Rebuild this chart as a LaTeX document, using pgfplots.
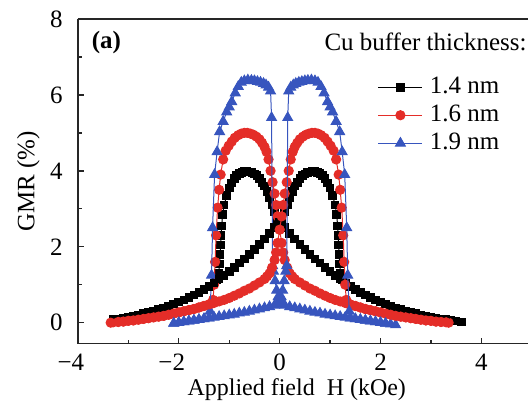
\documentclass[border=0pt]{standalone}
\usepackage{fontspec}
\setmainfont{Liberation Serif}
\usepackage{pgfplots}
\usepackage{pgfplotstable}
\pgfplotsset{compat=1.18}
\definecolor{gred}{RGB}{228,45,40}
\definecolor{gblue}{RGB}{55,85,190}

% field sweep from +H to -H; the return sweep is the mirror image
\pgfplotstableread{
x y
3.6 0.02
3.5 0.04
3.4 0.06
3.3 0.08
3.2 0.10
3.1 0.12
3.0 0.15
2.9 0.17
2.8 0.20
2.7 0.24
2.6 0.27
2.5 0.31
2.4 0.35
2.3 0.39
2.2 0.44
2.1 0.49
2.0 0.54
1.9 0.60
1.8 0.66
1.7 0.73
1.6 0.80
1.5 0.88
1.4 0.96
1.3 1.05
1.2 1.15
1.1 1.25
1.0 1.35
0.9 1.46
0.8 1.57
0.7 1.68
0.6 1.80
0.5 1.93
0.4 2.06
0.3 2.20
0.2 2.35
0.1 2.50
0.05 2.57
0.0 2.65
-0.05 2.77
-0.1 2.92
-0.15 3.10
-0.2 3.30
-0.25 3.45
-0.3 3.60
-0.35 3.70
-0.4 3.80
-0.45 3.87
-0.5 3.92
-0.55 3.95
-0.6 3.97
-0.65 3.98
-0.7 3.98
-0.75 3.96
-0.8 3.93
-0.85 3.88
-0.9 3.80
-0.95 3.68
-1.0 3.55
-1.05 3.35
-1.1 3.10
-1.13 2.85
-1.15 2.55
-1.16 2.30
-1.17 2.05
-1.18 1.80
-1.19 1.55
-1.21 1.30
-1.25 1.12
-1.3 1.05
-1.4 0.96
-1.5 0.88
-1.6 0.80
-1.7 0.73
-1.8 0.66
-1.9 0.60
-2.0 0.54
-2.1 0.49
-2.2 0.44
-2.3 0.39
-2.4 0.35
-2.5 0.31
-2.6 0.27
-2.7 0.24
-2.8 0.20
-2.9 0.17
-3.0 0.15
-3.1 0.12
-3.2 0.10
-3.3 0.08
}\blackA

\pgfplotstableread{
x y
3.35 0.00
3.2 0.02
3.1 0.03
3.0 0.05
2.9 0.06
2.8 0.08
2.7 0.10
2.6 0.12
2.5 0.14
2.4 0.16
2.3 0.18
2.2 0.21
2.1 0.24
2.0 0.27
1.9 0.30
1.8 0.33
1.7 0.36
1.6 0.40
1.5 0.44
1.4 0.48
1.3 0.52
1.2 0.56
1.1 0.60
1.0 0.65
0.9 0.71
0.8 0.77
0.7 0.84
0.6 0.90
0.5 0.98
0.4 1.06
0.3 1.15
0.25 1.22
0.2 1.30
0.15 1.45
0.1 1.65
0.07 1.85
0.04 2.10
0.0 2.45
-0.04 2.80
-0.07 3.10
-0.1 3.40
-0.14 3.70
-0.18 4.00
-0.22 4.30
-0.26 4.50
-0.3 4.63
-0.35 4.74
-0.4 4.83
-0.46 4.90
-0.52 4.95
-0.58 4.98
-0.64 5.00
-0.7 5.00
-0.76 4.98
-0.82 4.94
-0.89 4.87
-0.95 4.77
-1.01 4.66
-1.07 4.53
-1.12 4.30
-1.17 3.90
-1.2 3.50
-1.23 3.03
-1.26 2.30
-1.28 1.60
-1.3 1.00
-1.32 0.60
-1.35 0.50
-1.4 0.48
-1.5 0.44
-1.6 0.40
-1.7 0.36
-1.8 0.33
-1.9 0.30
-2.0 0.27
-2.1 0.24
-2.2 0.21
-2.3 0.18
-2.4 0.16
-2.5 0.14
-2.6 0.12
-2.7 0.10
-2.8 0.08
-2.9 0.06
-3.0 0.05
-3.1 0.03
-3.2 0.02
-3.3 0.01
}\redA

\pgfplotstableread{
x y
2.3 -0.06
2.2 -0.04
2.1 -0.02
2.0 0.00
1.9 0.02
1.8 0.04
1.7 0.06
1.6 0.08
1.5 0.10
1.4 0.12
1.3 0.14
1.2 0.16
1.1 0.18
1.0 0.20
0.9 0.22
0.8 0.25
0.7 0.27
0.6 0.30
0.5 0.33
0.4 0.36
0.3 0.39
0.2 0.42
0.1 0.46
0.05 0.49
0.0 0.55
-0.03 0.68
-0.06 0.85
-0.09 1.10
-0.12 1.35
-0.14 1.50
-0.16 5.40
-0.18 6.10
-0.22 6.20
-0.27 6.26
-0.32 6.30
-0.38 6.33
-0.44 6.35
-0.5 6.37
-0.56 6.38
-0.63 6.39
-0.7 6.37
-0.76 6.33
-0.82 6.22
-0.88 6.05
-0.95 5.82
-1.0 5.68
-1.05 5.55
-1.12 5.30
-1.19 5.03
-1.24 4.50
-1.29 3.90
-1.33 2.50
-1.35 1.25
-1.38 0.30
-1.4 0.12
-1.5 0.10
-1.6 0.08
-1.7 0.06
-1.8 0.04
-1.9 0.02
-2.0 0.00
-2.1 -0.02
}\blueA

\begin{document}
\begin{tikzpicture}
\begin{axis}[name=ax,
  scale only axis, width=225.5pt, height=162.5pt,
  xmin=-4, xmax=4.93, ymin=-0.55, ymax=8,
  axis x line*=bottom, axis y line*=left,
  axis line style={line width=0.7pt, black!85},
  tick align=inside, major tick length=3pt, minor tick length=2pt,
  every tick/.style={line width=0.7pt, black!85},
  xtick={-4,-2,0,2,4}, xticklabels={\llap{−}4,\llap{−}2,0,2,4},
  minor xtick={-3,-1,1,3},
  ytick={0,2,4,6,8}, yticklabels={0,2,4,6,8},
  minor ytick={1,3,5,7},
  ticklabel style={font=\fontsize{12.5}{15}\selectfont},
  xticklabel style={inner sep=0pt, anchor=north, yshift=-5pt},
  yticklabel style={inner sep=0pt, anchor=east, xshift=-7.5pt},
  xlabel={Applied field~~H (kOe)},
  ylabel={GMR (\%)},
  xlabel style={font=\fontsize{12}{14}\selectfont, inner sep=0pt, anchor=base, at={(axis description cs:0.486,-0.16)}},
  ylabel style={font=\fontsize{12.5}{15}\selectfont, inner sep=0pt, anchor=south, at={(axis description cs:-0.084,0.5)}},
  clip mode=individual,
  legend style={draw=none, fill=none, at={(axis description cs:0.652,0.84)}, anchor=north west,
    font=\fontsize{12.5}{15}\selectfont, nodes={inner sep=0pt, text height=9pt, text depth=3pt},
    row sep=2pt, column sep=3.5pt},
  legend cell align=left,
  legend image code/.code={\draw[mark repeat=2,mark phase=2,#1] plot coordinates {(0pt,0pt) (11pt,0pt) (22pt,0pt)};},
]
\addplot[black, line width=0.5pt, mark=square*, mark size=1.9pt] table[x=x, y=y] {\blackA};
\addlegendentry{1.4 nm}
\addplot[gred, line width=0.5pt, mark=*, mark size=2.3pt] table[x=x, y=y] {\redA};
\addlegendentry{1.6 nm}
\addplot[gblue, line width=0.5pt, mark=triangle*, mark size=2.8pt] table[x=x, y=y] {\blueA};
\addlegendentry{1.9 nm}
\addplot[black, line width=0.5pt, mark=square*, mark size=1.9pt, forget plot, restrict x to domain=-3.35:4] table[x expr=-\thisrow{x}, y=y] {\blackA};
\addplot[gred, line width=0.5pt, mark=*, mark size=2.3pt, forget plot] table[x expr=-\thisrow{x}, y=y] {\redA};
\addplot[gblue, line width=0.5pt, mark=triangle*, mark size=2.8pt, forget plot, restrict x to domain=-2.15:4] table[x expr=-\thisrow{x}, y=y] {\blueA};
\node[anchor=west, inner sep=0pt, font=\bfseries\fontsize{12.5}{15}\selectfont] at (axis description cs:0.03,0.929) {(a)};
\node[anchor=base east, inner sep=0pt, font=\fontsize{12.5}{15}\selectfont] at (axis description cs:0.997,0.902) {Cu buffer thickness:};
\end{axis}
\draw[line width=0.7pt, black!85] (ax.north west) -- (ax.north east);
\path (ax.south west) ++(-39pt,-28.5pt) -- ++(0pt,0pt);
\path (ax.north west) ++(0pt,9.5pt) -- ++(0pt,0pt);
\end{tikzpicture}
\end{document}
